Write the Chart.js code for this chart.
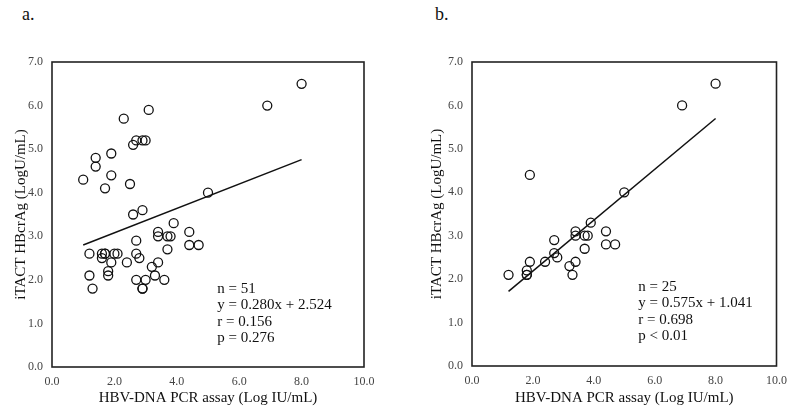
<!DOCTYPE html>
<html>
<head>
<meta charset="utf-8">
<script src="https://cdn.jsdelivr.net/npm/chart.js@4.4.1/dist/chart.umd.min.js"></script>
<style>
  body { margin: 0; background: #fff; }
  .panel { position: absolute; top: 0; height: 408px; }
  .lbl { position: absolute; top: 4px; font: 18px "Liberation Serif", serif; color: #111; }
</style>
</head>
<body>
<div class="lbl" style="left:22px">a.</div>
<div class="lbl" style="left:435px">b.</div>
<div class="panel" style="left:0; width:400px"><canvas id="chartA"></canvas></div>
<div class="panel" style="left:400px; width:395px"><canvas id="chartB"></canvas></div>
<script>
// data a. (all patients)
var xA = [1.0, 1.4, 1.4, 1.9, 1.9, 1.7, 2.3, 3.1, 2.6, 2.7, 3.0, 2.9, 2.5, 2.9, 2.6, 5.0, 6.9, 8.0,
          3.9, 3.4, 3.4, 3.7, 3.8, 4.4, 4.4, 4.7, 3.7, 2.7, 2.7, 2.8, 2.4, 3.4, 3.2, 3.3, 3.6,
          2.7, 3.0, 2.9, 2.9, 1.2, 1.2, 1.3, 1.6, 1.7, 1.7, 2.0, 2.1, 1.6, 1.9, 1.8, 1.8];
var yA = [4.3, 4.8, 4.6, 4.9, 4.4, 4.1, 5.7, 5.9, 5.1, 5.2, 5.2, 5.2, 4.2, 3.6, 3.5, 4.0, 6.0, 6.5,
          3.3, 3.1, 3.0, 3.0, 3.0, 3.1, 2.8, 2.8, 2.7, 2.9, 2.6, 2.5, 2.4, 2.4, 2.3, 2.1, 2.0,
          2.0, 2.0, 1.8, 1.8, 2.6, 2.1, 1.8, 2.6, 2.6, 2.6, 2.6, 2.6, 2.5, 2.4, 2.2, 2.1];
var fitAx = [1.0, 8.0];
var fitAy = [2.80, 4.76];
var statsA = ["n = 51", "y = 0.280x + 2.524", "r = 0.156", "p = 0.276"];

// data b.
var xB = [1.2, 1.8, 1.8, 1.8, 1.9, 1.9, 2.4, 2.7, 2.7, 2.8, 3.2, 3.3, 3.4, 3.4, 3.4,
          3.7, 3.8, 3.7, 3.9, 4.4, 4.4, 4.7, 5.0, 6.9, 8.0];
var yB = [2.1, 2.2, 2.1, 2.1, 2.4, 4.4, 2.4, 2.9, 2.6, 2.5, 2.3, 2.1, 2.4, 3.1, 3.0,
          3.0, 3.0, 2.7, 3.3, 3.1, 2.8, 2.8, 4.0, 6.0, 6.5];
var fitBx = [1.2, 8.0];
var fitBy = [1.72, 5.70];
var statsB = ["n = 25", "y = 0.575x + 1.041", "r = 0.698", "p < 0.01"];

var xTitle = "HBV-DNA PCR assay (Log IU/mL)";
var yTitle = "iTACT HBcrAg (LogU/mL)";

function toPts(xs, ys) {
    var pts = [];
    for (var i = 0; i < xs.length; i++) pts.push({ x: xs[i], y: ys[i] });
    return pts;
}

// frame round the plot area + stats text
var framePlugin = {
    id: 'frame',
    afterDraw: function (chart, args, opts) {
        var ctx = chart.ctx, a = chart.chartArea;
        ctx.save();
        ctx.strokeStyle = '#222';
        ctx.lineWidth = 1.6;
        ctx.strokeRect(a.left, a.top, a.right - a.left, a.bottom - a.top);
        ctx.fillStyle = '#111';
        ctx.font = '15px "Liberation Serif", serif';
        ctx.textBaseline = 'middle';
        var tx = chart.scales.x.getPixelForValue(opts.tx);
        var ty = chart.scales.y.getPixelForValue(opts.ty);
        for (var i = 0; i < opts.lines.length; i++) {
            ctx.fillText(opts.lines[i], tx, ty + i * 16.5);
        }
        ctx.restore();
    }
};

function MakeChart(id, xs, ys, fx, fy, stats, pad, yw, xh, ytPad, tx, ty) {
    new Chart(id, {
        type: 'scatter',
        data: {
            datasets: [{
                data: toPts(xs, ys),
                pointRadius: 4.5,
                pointBorderWidth: 1.3,
                pointBorderColor: '#111',
                pointBackgroundColor: 'rgba(0,0,0,0)'
            }, {
                type: 'line',
                data: toPts(fx, fy),
                borderColor: '#111',
                borderWidth: 1.5,
                pointRadius: 0,
                fill: false
            }]
        },
        options: {
            responsive: true,
            maintainAspectRatio: false,
            animation: false,
            layout: { padding: pad },
            plugins: {
                legend: { display: false },
                tooltip: { enabled: false },
                frame: { tx: tx, ty: ty, lines: stats }
            },
            scales: {
                x: {
                    type: 'linear', min: 0, max: 10,
                    grid: { display: false, drawTicks: false },
                    border: { display: false },
                    ticks: {
                        stepSize: 2, padding: 8, color: '#444',
                        font: { family: '"Liberation Serif", serif', size: 12 },
                        callback: function (v) { return v.toFixed(1); }
                    },
                    title: {
                        display: true, text: xTitle, color: '#111',
                        font: { family: '"Liberation Serif", serif', size: 15 },
                        padding: { top: 0, bottom: 1 }
                    },
                    afterFit: function (s) { s.height = xh; }
                },
                y: {
                    type: 'linear', min: 0, max: 7,
                    grid: { display: false, drawTicks: false },
                    border: { display: false },
                    ticks: {
                        stepSize: 1, padding: 9, color: '#444',
                        font: { family: '"Liberation Serif", serif', size: 12 },
                        callback: function (v) { return v.toFixed(1); }
                    },
                    title: {
                        display: true, text: yTitle, color: '#111',
                        font: { family: '"Liberation Serif", serif', size: 15 },
                        padding: { top: ytPad, bottom: 0 }
                    },
                    afterFit: function (s) { s.width = yw; }
                }
            }
        },
        plugins: [framePlugin]
    });
}

MakeChart('chartA', xA, yA, fitAx, fitAy, statsA, { top: 62, right: 36, left: 0, bottom: 0 }, 52, 41, 12, 5.3, 1.79);
MakeChart('chartB', xB, yB, fitBx, fitBy, statsB, { top: 62, right: 12, left: 0, bottom: 0 }, 72, 42, 28, 5.46, 1.82);
</script>
</body>
</html>
